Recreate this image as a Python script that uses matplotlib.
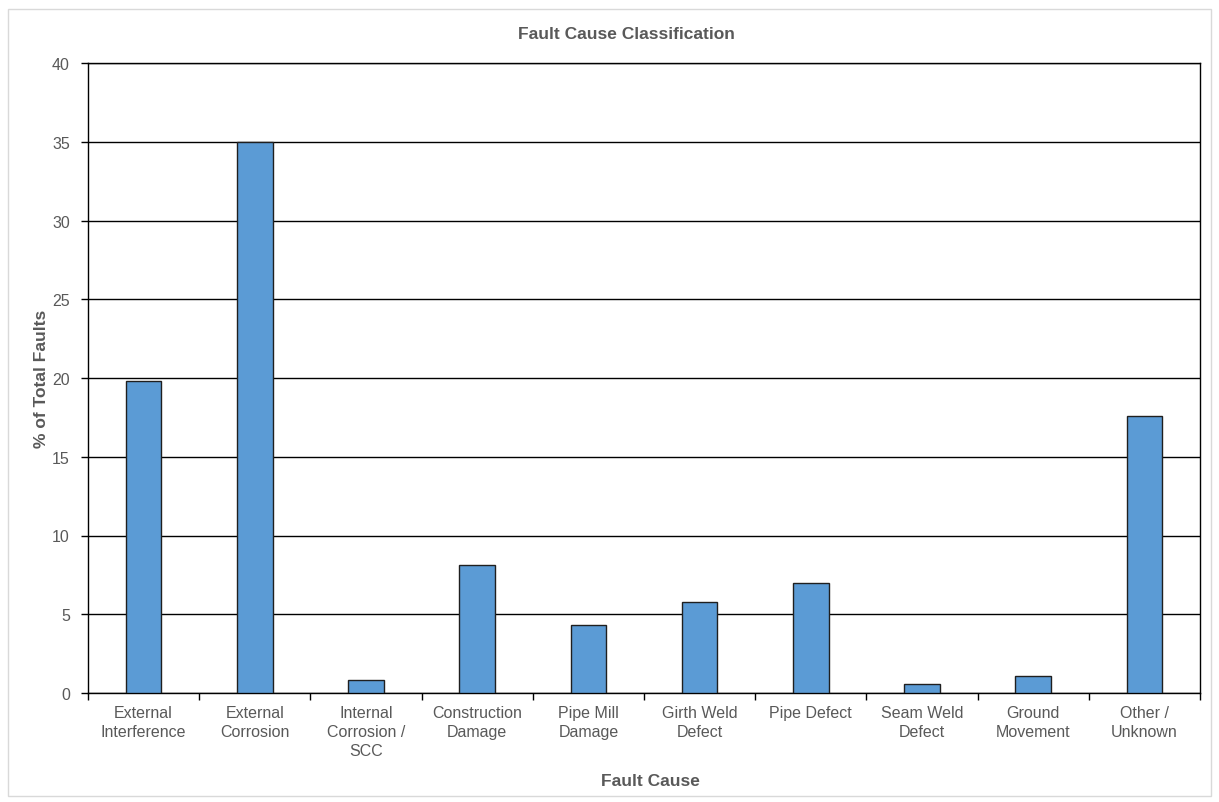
import matplotlib
matplotlib.use("Agg")
import matplotlib.pyplot as plt
from matplotlib.patches import Rectangle
import numpy as np

plt.rcParams['font.family'] = ['Liberation Sans', 'DejaVu Sans']

categories = [
    "External\nInterference", "External\nCorrosion", "Internal\nCorrosion /\nSCC",
    "Construction\nDamage", "Pipe Mill\nDamage", "Girth Weld\nDefect", "Pipe Defect",
    "Seam Weld\nDefect", "Ground\nMovement", "Other /\nUnknown",
]
percent_faults = [19.8, 35.0, 0.85, 8.1, 4.3, 5.8, 7.0, 0.6, 1.1, 17.6]
y_ticks = [0, 5, 10, 15, 20, 25, 30, 35, 40]

W, H = 1219, 803
text_grey = '#595959'

fig = plt.figure(figsize=(W / 100, H / 100), dpi=100)
ax = fig.add_axes([88 / W, 1 - 694 / H, (1200 - 88) / W, (694 - 64) / H])

# light frame around the whole chart area
fig.patches.append(Rectangle((8 / W, 1 - 797 / H), (1211 - 8) / W, (797 - 10) / H,
                             transform=fig.transFigure, fill=False,
                             edgecolor='#d9d9d9', linewidth=1.0))

x = np.arange(len(categories))
ax.bar(x, percent_faults, width=0.32, color='#5b9bd5', edgecolor='#1f1f1f',
       linewidth=1.0, zorder=3)

ax.set_xlim(-0.5, len(categories) - 0.5)
ax.set_ylim(0, 40)
ax.set_yticks(y_ticks)
ax.set_yticklabels([str(v) for v in y_ticks], fontsize=11.5, color=text_grey)
ax.yaxis.grid(True, color='black', linewidth=1.0, zorder=0)

# category labels centred under bars, ticks between categories
ax.set_xticks(x)
ax.set_xticklabels(categories, fontsize=11.5, color=text_grey, linespacing=1.3)
ax.tick_params(axis='x', length=0, pad=9)
ax.set_xticks(np.arange(-0.5, len(categories), 1.0), minor=True)
ax.tick_params(axis='x', which='minor', length=5, width=1.0, direction='out', color='black')
ax.tick_params(axis='y', length=5, width=1.0, direction='out', color='black', pad=8)

for s in ax.spines.values():
    s.set_color('black')
    s.set_linewidth(1.0)

fig.text(626 / W, 1 - 39 / H, "Fault Cause Classification", fontsize=12.5,
         fontweight='bold', color=text_grey, ha='center', va='baseline')
fig.text(650 / W, 1 - 786 / H, "Fault Cause", fontsize=12.5,
         fontweight='bold', color=text_grey, ha='center', va='baseline')
fig.text(41.5 / W, 1 - 379 / H, "% of Total Faults", fontsize=12.5,
         fontweight='bold', color=text_grey, ha='center', va='center', rotation=90)

fig.savefig("out.png", dpi=100, facecolor='white')
